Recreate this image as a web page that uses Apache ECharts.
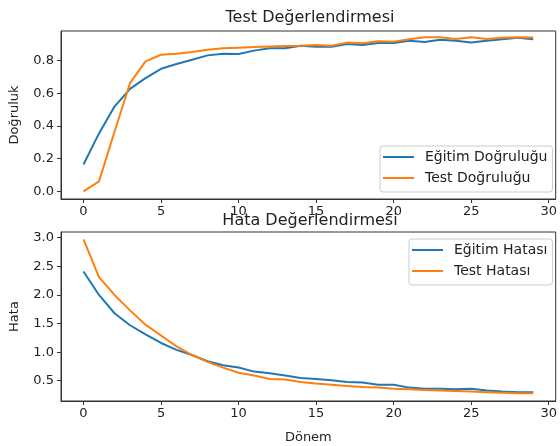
<!DOCTYPE html>
<html lang="tr">
<head>
<meta charset="UTF-8">
<title>Test Değerlendirmesi</title>
<script src="https://cdn.jsdelivr.net/npm/echarts@6/dist/echarts.min.js"></script>
<style>
  html, body { margin: 0; padding: 0; background: #fff; }
  #chart { width: 560px; height: 446px; }
</style>
</head>
<body>
<div id="chart"></div>
<script>
var epochs = [];
for (var i = 0; i < 30; i++) epochs.push(i);

var trainAcc = [0.164, 0.354, 0.518, 0.626, 0.692, 0.749, 0.778, 0.804, 0.831, 0.841,
                0.839, 0.860, 0.874, 0.874, 0.890, 0.884, 0.884, 0.901, 0.895, 0.907,
                0.907, 0.921, 0.913, 0.927, 0.921, 0.909, 0.921, 0.929, 0.938, 0.929];
var testAcc = [0.0, 0.061, 0.364, 0.661, 0.794, 0.835, 0.841, 0.852, 0.866, 0.874,
               0.878, 0.882, 0.886, 0.888, 0.890, 0.895, 0.890, 0.909, 0.905, 0.917,
               0.915, 0.929, 0.942, 0.942, 0.931, 0.942, 0.931, 0.938, 0.942, 0.940];
var trainLoss = [2.41, 2.00, 1.68, 1.47, 1.31, 1.16, 1.04, 0.95, 0.84, 0.77,
                 0.73, 0.66, 0.63, 0.59, 0.55, 0.53, 0.51, 0.48, 0.47, 0.43,
                 0.43, 0.38, 0.36, 0.36, 0.35, 0.36, 0.33, 0.31, 0.30, 0.30];
var testLoss = [2.97, 2.31, 2.00, 1.73, 1.48, 1.29, 1.10, 0.95, 0.83, 0.73,
                0.64, 0.59, 0.53, 0.52, 0.48, 0.45, 0.43, 0.41, 0.39, 0.38,
                0.36, 0.35, 0.34, 0.33, 0.32, 0.31, 0.30, 0.29, 0.28, 0.28];

function pairs(ys) {
  return ys.map(function (y, i) { return [epochs[i], y]; });
}

var font = 'DejaVu Sans';
var ink = '#222';

function xAxisFor(idx, name) {
  return {
    type: 'value', gridIndex: idx, min: -1.45, max: 30.45, splitNumber: 6,
    name: name, nameLocation: 'middle', nameGap: 30,
    nameTextStyle: { fontFamily: font, fontSize: 13, color: ink },
    axisLine: { show: true, onZero: false, lineStyle: { color: '#333', width: 1 } },
    axisTick: { show: true, length: 4, lineStyle: { color: '#333' } },
    axisLabel: {
      fontFamily: font, fontSize: 13, color: ink, margin: 6,
      showMinLabel: false, showMaxLabel: false,
      formatter: function (v) { return v % 5 === 0 ? String(v) : ''; }
    },
    splitLine: { show: false }
  };
}

function yAxisFor(idx, name, min, max, split) {
  return {
    type: 'value', gridIndex: idx, min: min, max: max, splitNumber: split,
    name: name, nameLocation: 'middle', nameGap: 40,
    nameTextStyle: { fontFamily: font, fontSize: 13, color: ink },
    axisLine: { show: true, onZero: false, lineStyle: { color: '#333', width: 1 } },
    axisTick: { show: true, length: 4, lineStyle: { color: '#333' } },
    axisLabel: {
      fontFamily: font, fontSize: 13, color: ink, margin: 7,
      showMinLabel: false, showMaxLabel: false,
      formatter: function (v) { return v.toFixed(1); }
    },
    splitLine: { show: false }
  };
}

function line(name, data, color, xi) {
  return {
    name: name, type: 'line', xAxisIndex: xi, yAxisIndex: xi,
    data: pairs(data), showSymbol: false, symbol: 'none',
    lineStyle: { color: color, width: 2 }, itemStyle: { color: color },
    animation: false
  };
}

var legendBase = {
  orient: 'vertical', icon: 'rect', itemWidth: 31, itemHeight: 2, itemGap: 7,
  backgroundColor: 'rgba(255,255,255,0.8)', borderColor: '#ccc', borderWidth: 1,
  borderRadius: 3, padding: [4, 5, 7, 3],
  textStyle: { fontFamily: font, fontSize: 14, lineHeight: 14, color: ink, padding: [0, 0, 0, 6] }
};

var chart = echarts.init(document.getElementById('chart'));
chart.setOption({
  animation: false,
  title: [
    { text: 'Test Değerlendirmesi', left: 305, top: 5, textAlign: 'center',
      textStyle: { fontFamily: font, fontSize: 16, fontWeight: 'normal', color: ink } },
    { text: 'Hata Değerlendirmesi', left: 305, top: 208, textAlign: 'center',
      textStyle: { fontFamily: font, fontSize: 16, fontWeight: 'normal', color: ink } }
  ],
  grid: [
    { left: 61, right: 1, top: 31, height: 168, show: true, borderColor: '#333', borderWidth: 1 },
    { left: 61, right: 1, top: 232, height: 169, show: true, borderColor: '#333', borderWidth: 1 }
  ],
  legend: [
    Object.assign({}, legendBase, { data: ['Eğitim Doğruluğu', 'Test Doğruluğu'], left: 380, top: 146 }),
    Object.assign({}, legendBase, { data: ['Eğitim Hatası', 'Test Hatası'], left: 409, top: 239 })
  ],
  xAxis: [xAxisFor(0, ''), xAxisFor(1, 'Dönem')],
  yAxis: [
    yAxisFor(0, 'Doğruluk', -0.047, 0.98, 5),
    yAxisFor(1, 'Hata', 0.146, 3.10, 6)
  ],
  series: [
    line('Eğitim Doğruluğu', trainAcc, '#1f77b4', 0),
    line('Test Doğruluğu', testAcc, '#ff7f0e', 0),
    line('Eğitim Hatası', trainLoss, '#1f77b4', 1),
    line('Test Hatası', testLoss, '#ff7f0e', 1)
  ]
});
</script>
</body>
</html>
